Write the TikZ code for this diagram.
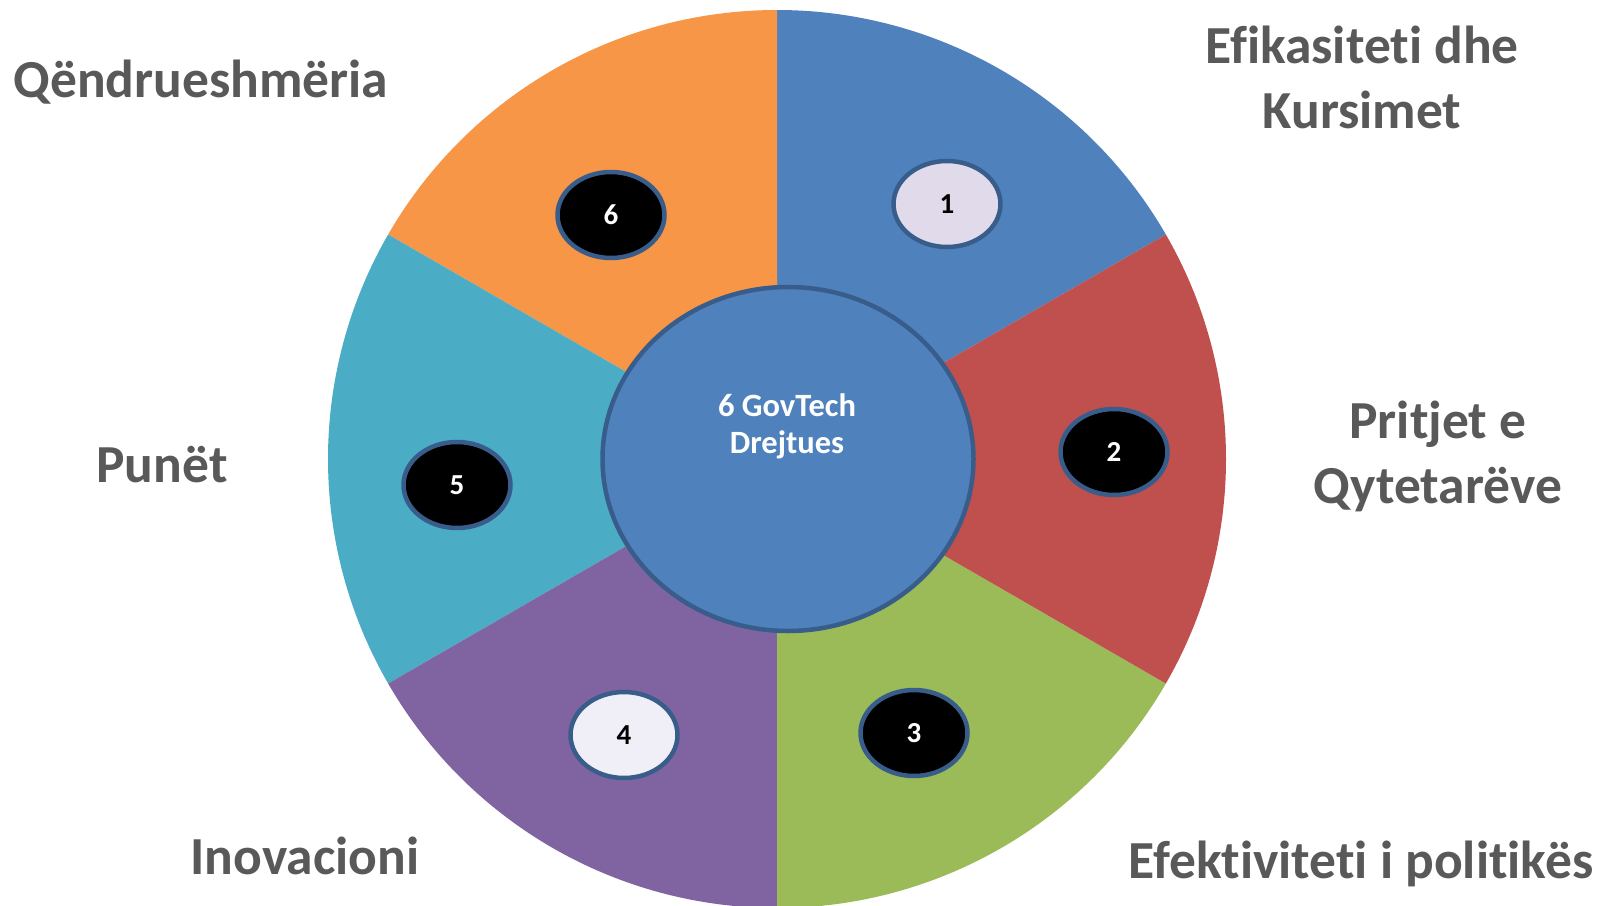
\documentclass[tikz,border=0pt]{standalone}
\usepackage{fontspec}
\setmainfont{Carlito}[Ligatures=NoCommon]
\usetikzlibrary{shapes.geometric}
\definecolor{secblue}{HTML}{4F81BD}
\definecolor{secred}{HTML}{C0504D}
\definecolor{secgreen}{HTML}{9BBB59}
\definecolor{secpurple}{HTML}{8064A2}
\definecolor{seccyan}{HTML}{4BACC6}
\definecolor{secorange}{HTML}{F79646}
\definecolor{ringblue}{HTML}{385D8A}
\definecolor{labelgray}{HTML}{595959}
\definecolor{lavender}{HTML}{E0DAEA}
\definecolor{palelav}{HTML}{F0EEF6}
\begin{document}
\begin{tikzpicture}[x=1pt,y=1pt,
  lbl/.style={text=labelgray, font=\fontsize{53.5}{65}\selectfont\bfseries, align=center, anchor=base, inner sep=0pt},
  num/.style={ellipse, draw=ringblue, line width=4.5pt, minimum width=107pt, minimum height=86pt, inner sep=0pt, font=\fontsize{29}{30}\selectfont\bfseries},
  darknum/.style={num, fill=black, text=white},
  hub/.style={ellipse, draw=ringblue, line width=4.5pt, fill=secblue, minimum width=371pt, minimum height=344pt, inner sep=0pt},
  hubtext/.style={text=white, font=\fontsize{32.5}{37}\selectfont\bfseries, align=center, anchor=base, inner sep=0pt}]
\useasboundingbox (0,0) rectangle (1601,-905);
\clip (0,0) rectangle (1601,-905);
\fill[white] (0,0) rectangle (1601,-905);
\coordinate (c) at (777,-459);
\fill[secblue]   (c) -- ++(30:449)  arc[start angle=30,  end angle=90,  radius=449] -- cycle;
\fill[secorange] (c) -- ++(90:449)  arc[start angle=90,  end angle=150, radius=449] -- cycle;
\fill[seccyan]   (c) -- ++(150:449) arc[start angle=150, end angle=210, radius=449] -- cycle;
\fill[secpurple] (c) -- ++(210:449) arc[start angle=210, end angle=270, radius=449] -- cycle;
\fill[secgreen]  (c) -- ++(270:449) arc[start angle=270, end angle=330, radius=449] -- cycle;
\fill[secred]    (c) -- ++(330:449) arc[start angle=330, end angle=390, radius=449] -- cycle;
\node[hub] (hub) at (788,-459) {};
\node[hubtext] (hubtxt) at (787,-453) {6 GovTech\\Drejtues};
\node[num, fill=lavender] (n1) at (947,-204) {1};
\node[darknum] (n2) at (1114,-452) {2};
\node[darknum] (n3) at (914,-733) {3};
\node[num, fill=palelav] (n4) at (624,-735) {4};
\node[darknum] (n5) at (457,-485) {5};
\node[darknum] (n6) at (611,-215) {6};
\node[lbl] (l6) at (201,-97) {Qëndrueshmëria};
\node[lbl] (l1) at (1362,-128) {Efikasiteti dhe\\Kursimet};
\node[lbl] (l2) at (1438,-503) {Pritjet e\\Qytetarëve};
\node[lbl] (l5) at (162,-482) {Punët};
\node[lbl] (l4) at (305,-874) {Inovacioni};
\node[lbl] (l3) at (1361,-878) {Efektiviteti i politikës};
\end{tikzpicture}
\end{document}
